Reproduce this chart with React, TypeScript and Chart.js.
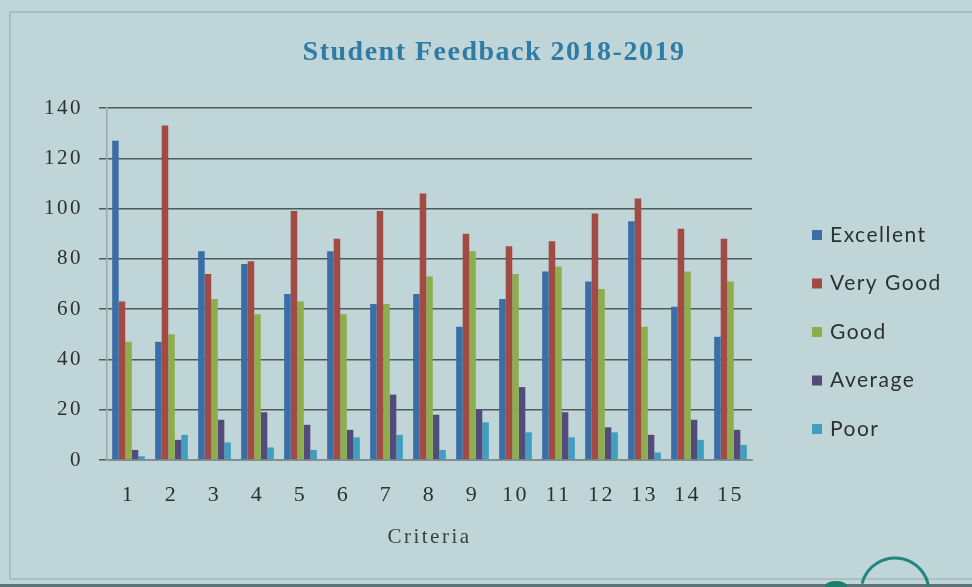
import React, { useEffect, useRef } from "react";
import { Chart, registerables } from "chart.js";

Chart.register(...registerables);

const categories = ["1", "2", "3", "4", "5", "6", "7", "8", "9", "10", "11", "12", "13", "14", "15"];
const excellent = [127, 47, 83, 78, 66, 83, 62, 66, 53, 64, 75, 71, 95, 61, 49];
const veryGood = [63, 133, 74, 79, 99, 88, 99, 106, 90, 85, 87, 98, 104, 92, 88];
const good = [47, 50, 64, 58, 63, 58, 62, 73, 83, 74, 77, 68, 53, 75, 71];
const average = [4, 8, 16, 19, 14, 12, 26, 18, 20, 29, 19, 13, 10, 16, 12];
const poor = [1.5, 10, 7, 5, 4, 9, 10, 4, 15, 11, 9, 11, 3, 8, 6];
const seriesNames = ["Excellent", "Very Good", "Good", "Average", "Poor"];
const seriesColors = ["#3b6ea6", "#a44a45", "#8cae4c", "#524b7c", "#3f9fbf"];
const titleText = "Student Feedback 2018-2019";

const BG = "#c0d5d7";
const SERIF = "'Liberation Serif', 'Times New Roman', serif";

export default function App() {
  const ref = useRef<HTMLCanvasElement>(null);

  useEffect(() => {
    if (!ref.current) return;
    const values = [excellent, veryGood, good, average, poor];
    const spacingPlugin = {
      id: "spacing",
      beforeUpdate(chart: any) {
        chart.ctx.letterSpacing = "2.5px";
      },
      beforeDraw(chart: any) {
        chart.ctx.letterSpacing = "2.5px";
      },
    };
    const bgPlugin = {
      id: "bg",
      beforeDraw(chart: any) {
        const ctx = chart.ctx;
        ctx.save();
        ctx.fillStyle = BG;
        ctx.fillRect(0, 0, chart.width, chart.height);
        ctx.strokeStyle = "#a3b8ba";
        ctx.lineWidth = 1.5;
        ctx.strokeRect(10, 12, chart.width - 8, chart.height - 20);
        ctx.fillStyle = "#5d7375";
        ctx.fillRect(0, chart.height - 3, chart.width, 3);
        ctx.strokeStyle = "#1f877d";
        ctx.lineWidth = 3;
        ctx.beginPath();
        ctx.arc(895, 592, 34, Math.PI * 1.08, Math.PI * 1.95);
        ctx.stroke();
        ctx.fillStyle = "#1f7f6f";
        ctx.beginPath();
        ctx.ellipse(836, 586, 11, 5, 0, 0, Math.PI * 2);
        ctx.fill();
        ctx.restore();
      },
      afterDraw(chart: any) {
        const ctx = chart.ctx;
        ctx.save();
        ctx.letterSpacing = "1.5px";
        ctx.font = `bold 28px ${SERIF}`;
        ctx.fillStyle = "#2e7ba6";
        ctx.textAlign = "center";
        ctx.textBaseline = "middle";
        ctx.fillText(titleText, 494, 53);
        ctx.restore();
      },
    };
    const legendPlugin = {
      id: "customLegend",
      afterDraw(chart: any) {
        const ctx = chart.ctx;
        const x = chart.chartArea.right + 60;
        const y0 = 235;
        const step = 48.5;
        ctx.save();
        ctx.letterSpacing = "1.5px";
        ctx.font = "21px Lato, 'Open Sans', sans-serif";
        ctx.textBaseline = "middle";
        ctx.textAlign = "left";
        chart.data.datasets.forEach((ds: any, i: number) => {
          const y = y0 + i * step;
          ctx.fillStyle = ds.backgroundColor;
          ctx.fillRect(x, y - 5, 10, 10);
          ctx.fillStyle = "#2b3132";
          ctx.fillText(ds.label, x + 18, y);
        });
        ctx.restore();
      },
    };
    const chart = new Chart(ref.current, {
      type: "bar",
      data: {
        labels: categories,
        datasets: seriesNames.map((name, i) => ({
          label: name,
          data: values[i],
          backgroundColor: seriesColors[i],
          borderWidth: 0,
          categoryPercentage: 0.76,
          barPercentage: 1,
        })),
      },
      options: {
        animation: false,
        responsive: false,
        layout: { padding: { left: 0, right: 220, bottom: 0, top: 108 } },
        plugins: {
          legend: { display: false },
          tooltip: { enabled: false },
          title: { display: false },
        },
        scales: {
          x: {
            afterFit(scale: any) {
              scale.height = 127;
            },
            grid: { display: false, drawTicks: false },
            border: { display: true, color: "#7e8e90", width: 1.5 },
            ticks: {
              color: "#2b3132",
              padding: 22,
              font: { family: SERIF, size: 22 },
            },
            title: {
              display: true,
              text: "Criteria",
              color: "#3a4142",
              font: { family: SERIF, size: 21 },
              padding: { top: 0, bottom: 37 },
            },
          },
          y: {
            afterFit(scale: any) {
              scale.width = 107;
            },
            min: 0,
            max: 140,
            ticks: {
              stepSize: 20,
              color: "#2b3132",
              padding: 16,
              font: { family: SERIF, size: 21 },
            },
            grid: { color: "#4d5b5d", lineWidth: 1.5, tickLength: 8, drawTicks: true },
            border: { display: true, color: "#97a7a9", width: 1.5 },
          },
        },
      },
      plugins: [spacingPlugin, bgPlugin, legendPlugin],
    });
    return () => chart.destroy();
  }, []);

  return (
    <div style={{ position: "absolute", left: 0, top: 0, width: 972, height: 587, background: BG }}>
      <canvas ref={ref} width={972} height={587} style={{ width: 972, height: 587, display: "block" }} />
    </div>
  );
}
